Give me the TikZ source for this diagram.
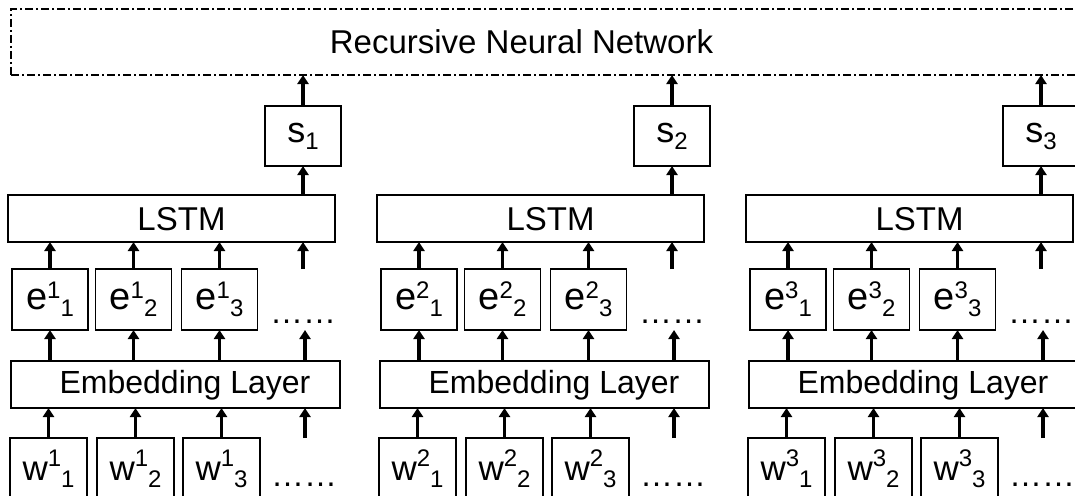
\documentclass[tikz,border=0pt]{standalone}
\usepackage{fontspec}
\setmainfont{Liberation Sans}
\usetikzlibrary{arrows.meta,calc}
\newcommand\fs[1]{\fontsize{#1}{#1}\selectfont}
\newcommand\etxt[2]{\fs{38}e\raisebox{11pt}{\fs{24}#1}\raisebox{-7pt}{\fs{24}#2}}
\newcommand\wtxt[2]{\fs{35}w\raisebox{14pt}{\fs{24}#1}\raisebox{-7pt}{\fs{24}#2}}
\newcommand\stxt[1]{\fs{36}s\raisebox{-7pt}{\fs{24}#1}}
\begin{document}
\begin{tikzpicture}[x=1pt,y=-1pt,
  box/.style={draw=black,line width=1.5pt,inner sep=0pt,outer sep=0pt},
  dashbox/.style={draw=black,line width=1.4pt,inner sep=0pt,outer sep=0pt,dash pattern=on 8pt off 3pt on 2pt off 3pt},
  arr/.style={line width=3.2pt,-{Triangle[width=11pt,length=9pt]}},
  lbl/.style={inner sep=0pt,font=\fs{33}}
]
\useasboundingbox (0,0) rectangle (1075,495);
\clip (0,0) rectangle (1075,495);
\node[dashbox,anchor=north west,minimum width=1090pt,minimum height=66pt] (rnn) at (11,9) {};
\node[lbl] (rnntext) at (521.5,42) {Recursive Neural Network};
\foreach \c/\ox in {1/0,2/369,3/738}{
  % s box
  \node[box,minimum width=76pt,minimum height=60pt] (s\c) at (303+\ox,136) {\stxt{\c}};
  \draw[arr] (s\c.north) -- (s\c.north |- rnn.south);
  % LSTM
  \node[box,anchor=north west,minimum width=327pt,minimum height=47pt] (lstm\c) at (8+\ox,195) {};
  \node[lbl] (lstmtext\c) at (181.5+\ox,219) {LSTM};
  \draw[arr] (s\c.south |- lstm\c.north) -- (s\c.south);
  % Embedding
  \node[box,anchor=north west,minimum width=329pt,minimum height=47pt] (emb\c) at (11+\ox,361) {};
  \node[lbl,font=\fs{32}] (embtext\c) at (185+\ox,385) {Embedding Layer};
  % e boxes
  \foreach \i/\ex/\wx in {1/50/48.5,2/133.5/135.5,3/219.5/221.5}{
    \node[box,minimum width=76pt,minimum height=61pt] (e\c-\i) at (\ex+\ox,299.5) {\etxt{\c}{\i}};
    \draw[arr] (e\c-\i.north) -- (e\c-\i.north |- lstm\c.south);
    \draw[arr] (e\c-\i.south |- emb\c.north) -- (e\c-\i.south);
    \node[box,minimum width=77pt,minimum height=61pt] (w\c-\i) at (\wx+\ox,468.5) {\wtxt{\c}{\i}};
    \draw[arr] (w\c-\i.north) -- (w\c-\i.north |- emb\c.south);
  }
  % dots and free arrows
  \node[lbl,anchor=base] (edots\c) at (303+\ox,323) {……};
  \node[lbl,anchor=base] (wdots\c) at (304+\ox,486) {……};
  \coordinate (ea\c) at (303+\ox,269);
  \draw[arr] (ea\c) -- (ea\c |- lstm\c.south);
  \coordinate (eb\c) at (305+\ox,330);
  \draw[arr] (eb\c |- emb\c.north) -- (eb\c);
  \coordinate (wa\c) at (305+\ox,438);
  \draw[arr] (wa\c) -- (wa\c |- emb\c.south);
}
\end{tikzpicture}
\end{document}
